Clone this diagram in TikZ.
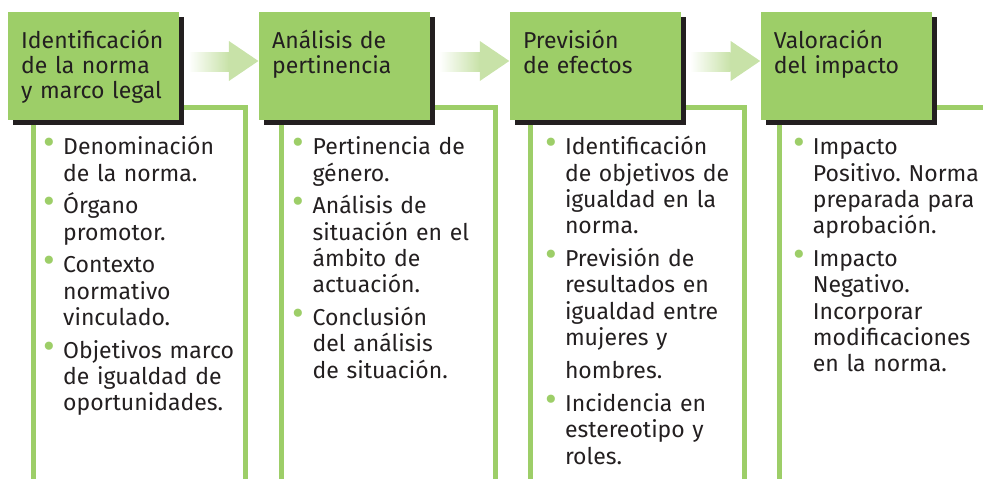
\documentclass[tikz,border=0pt]{standalone}
\usepackage{fontspec}
\setmainfont{Fira Sans}
\usepackage{tikz}
\usetikzlibrary{shadows}
\usetikzlibrary{backgrounds}
\usetikzlibrary{positioning}
\usetikzlibrary{calc}
\definecolor{verde}{RGB}{157,206,104}
\definecolor{verdeclaro}{RGB}{200,226,168}
\definecolor{tinta}{RGB}{35,31,32}
\frenchspacing
\newcommand\punto[1]{\par\noindent\llap{\textcolor{verde}{\fontsize{36}{36}\selectfont\textbullet}\hspace{8pt}}#1\par\vspace{6.5pt}}
\tikzset{
    every picture/.style={x=1pt,y=-1pt},
    fase/.style={fill=verde, text=tinta, align=left,
          text width=145pt, inner xsep=13pt, inner ysep=0pt,
          text height=36pt, text depth=72pt,
          font=\fontsize{23}{25}\selectfont,
          drop shadow={shadow xshift=5pt, shadow yshift=-5pt, opacity=1, fill=tinta}},
    lista/.style={text=tinta, align=left, text width=190pt, inner sep=0pt,
          font=\fontsize{23}{26.3}\selectfont},
    %marco/.style={draw=verde, line width=5pt},
}

\begin{document}
\begin{tikzpicture}[marco/.style={draw=verde, line width=5pt},
                    flecha/.style={left color=white, right color=verdeclaro}]
    \path[use as bounding box] (0,0) rectangle (983,479);
    \node[fase, anchor=north west] (h1) at (8,12) {Identificación\\de la norma\\y marco legal};
    \node[fase, right=79.5pt of h1] (h2) {Análisis de\\pertinencia};
    \node[fase, right=79.5pt of h2] (h3) {Previsión\\de efectos};
    \node[fase, right=79.5pt of h3] (h4) {Valoración\\del impacto};

    \node[lista, below right=8pt and 55pt of h1.south west, anchor=base west] (l1) {
        \punto{Denominación\\de la norma.}
        \punto{Órgano\\promotor.}
        \punto{Contexto\\normativo\\vinculado.}
        \punto{Objetivos marco\\de igualdad de\\oportunidades.}};
    \node[lista, below right=8pt and 53.5pt of h2.south west, anchor=base west] (l2) {
        \punto{Pertinencia de\\género.}
        \punto{Análisis de\\situación en el\\ámbito de\\actuación.}
        \punto{Conclusión\\del análisis\\de situación.}};
    \node[lista, below right=8pt and 55pt of h3.south west, anchor=base west] (l3) {
        \punto{Identificación\\de objetivos de\\igualdad en la\\norma.}
        \punto{Previsión de\\resultados en\\igualdad entre\\mujeres y\\[7pt]hombres.}
        \punto{Incidencia en\\estereotipo y\\roles.}};
    \node[lista, below right=8pt and 52pt of h4.south west, anchor=base west] (l4) {
        \punto{Impacto\\Positivo. Norma\\preparada para\\aprobación.}
        \punto{Impacto\\Negativo.\\Incorporar\\modificaciones\\en la norma.}};

    \begin{scope}[on background layer]
        \foreach \i/\dl/\dr in {1/25/237.5,2/23/236.5,3/21/235,4/19/236}
            \draw[marco] ($(h\i.south west)+(\dl,400)$) |- ($(h\i.south west)+(\dr,-12.5)$) -- ++(0,420);
    \end{scope}

    \foreach \a/\b in {1/2,2/3,3/4} {
        \shade[flecha] ($(h\a.north east)+(9,40)$) rectangle ($(h\b.north west)+(-30,59)$);
        \fill[verdeclaro] ($(h\b.north west)+(-30,29)$) -- ($(h\b.north west)+(-0.5,49)$)
            -- ($(h\b.north west)+(-30,69)$) -- cycle;
    }
\end{tikzpicture}
\end{document}
